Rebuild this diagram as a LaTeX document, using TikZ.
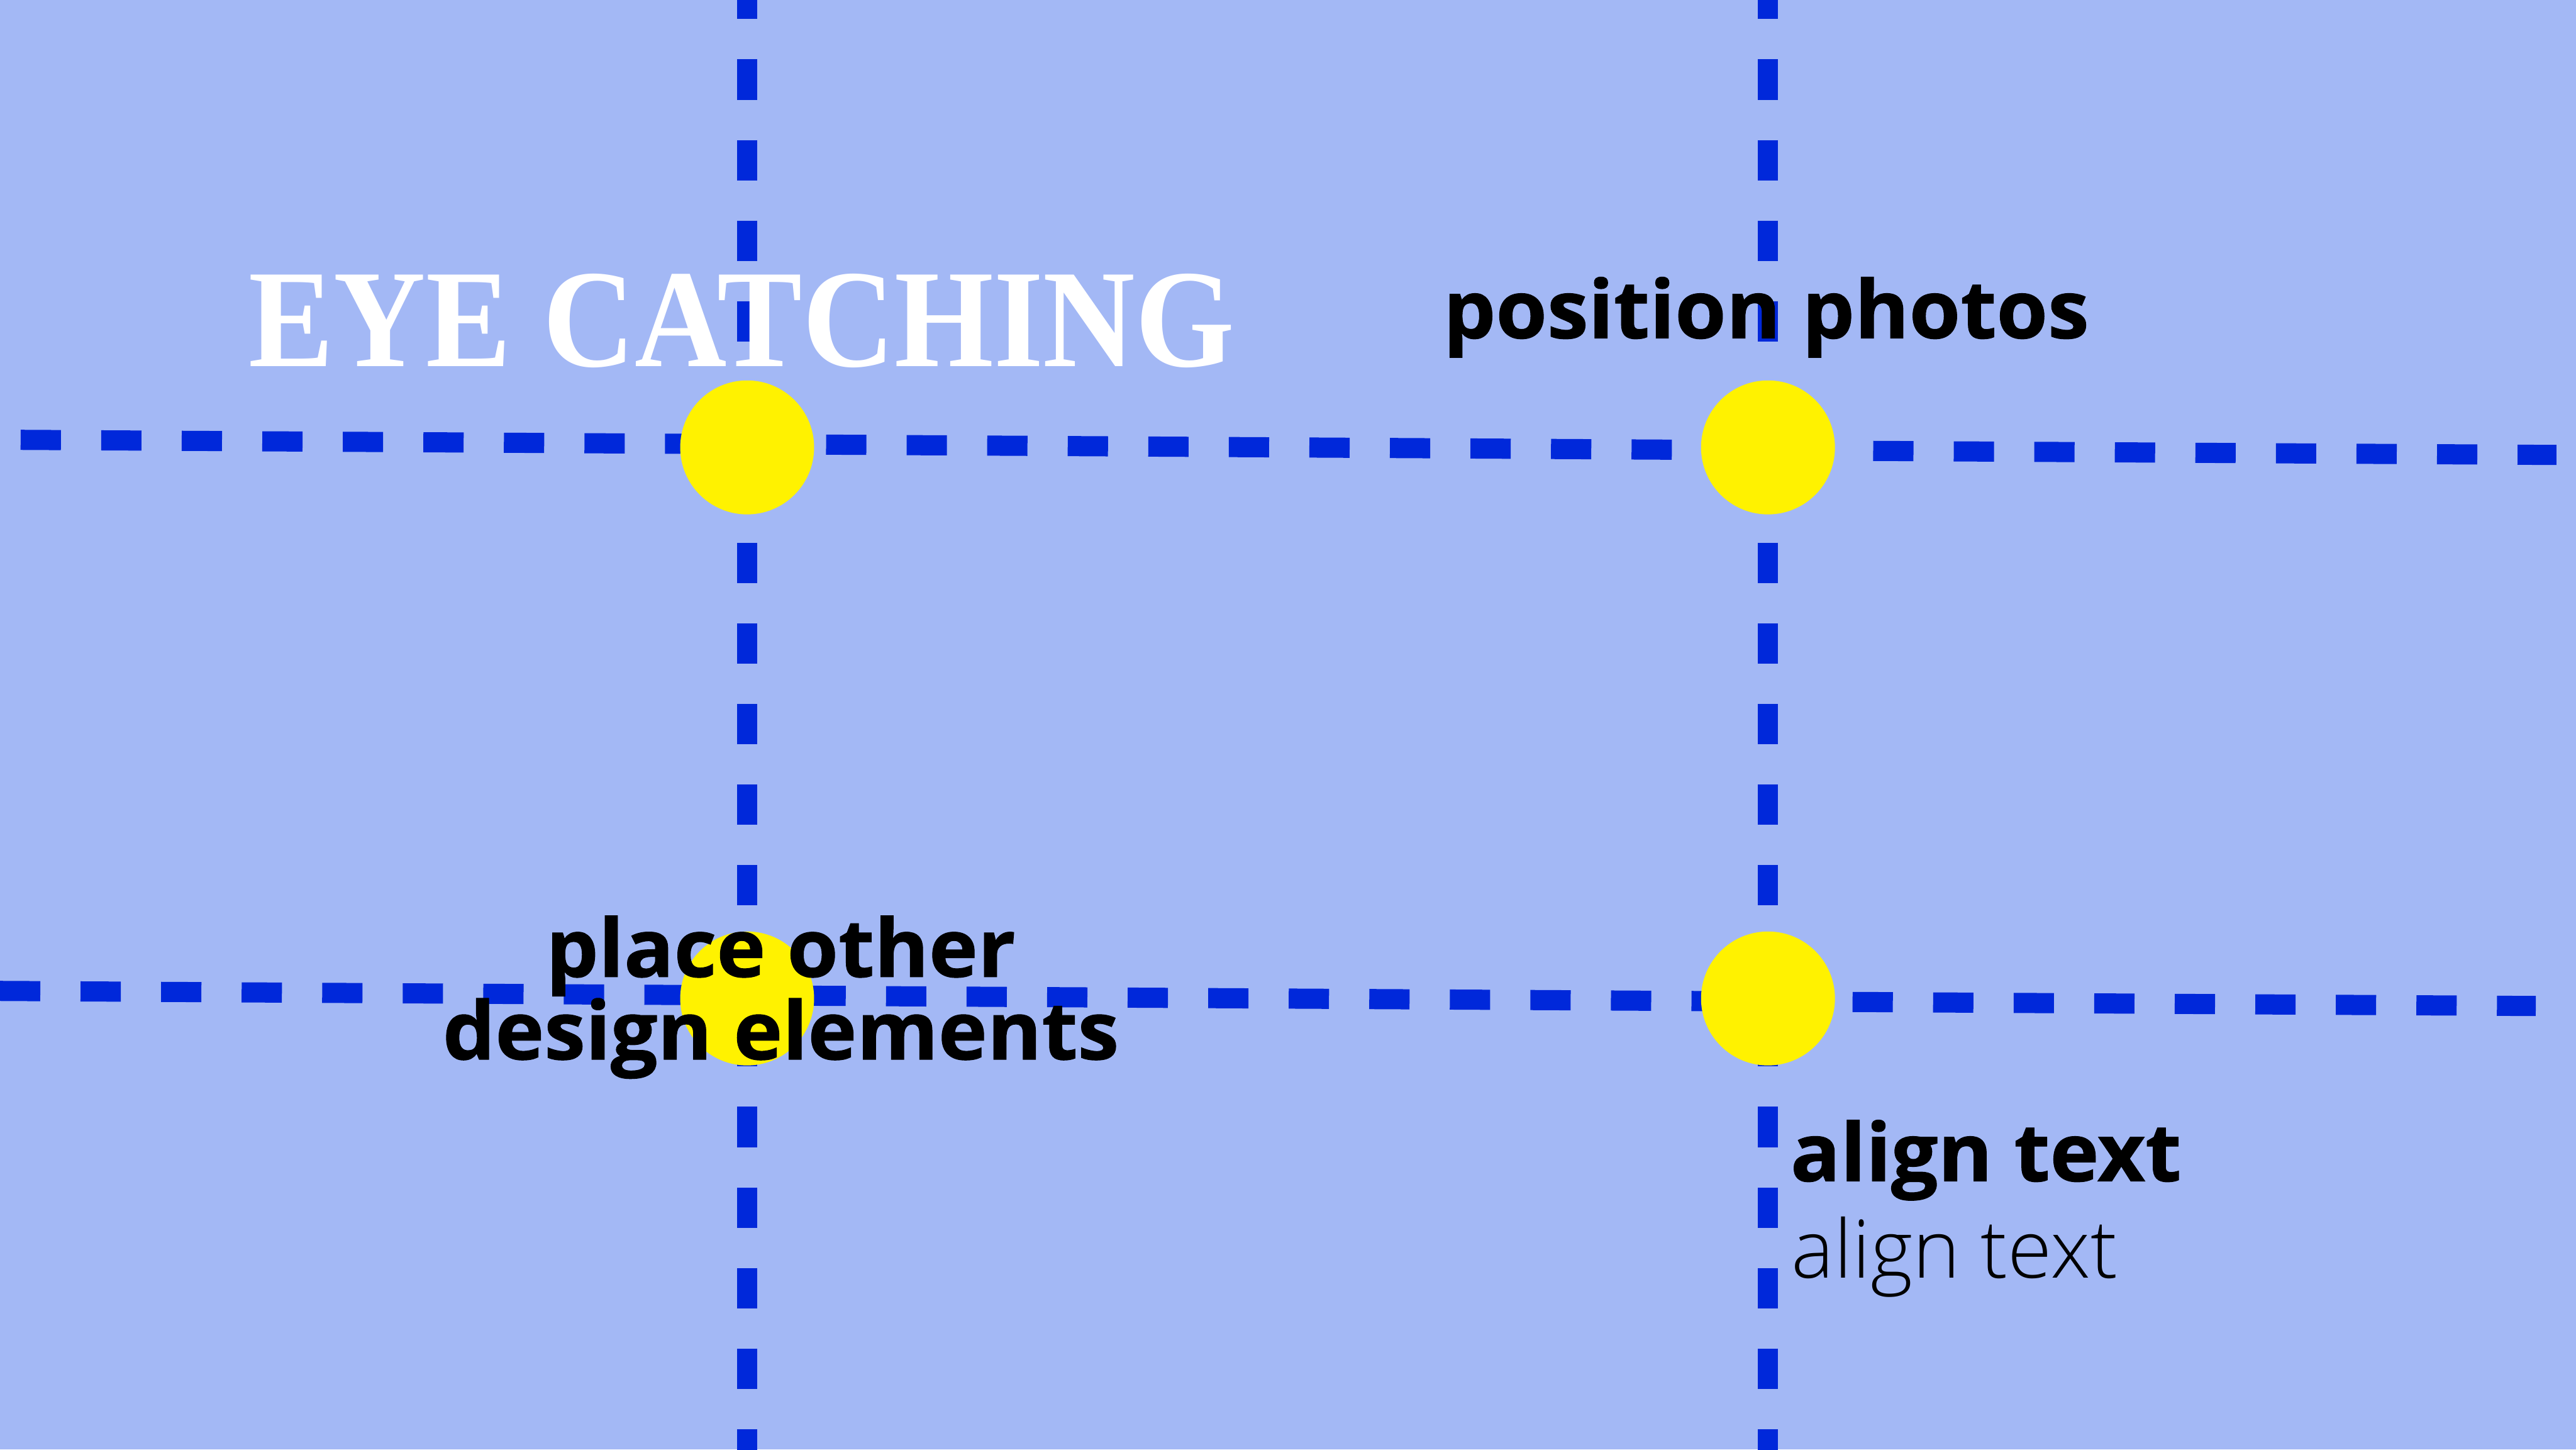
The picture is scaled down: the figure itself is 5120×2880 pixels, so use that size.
\documentclass[tikz,border=0pt]{standalone}
\usepackage{fontspec}
\usepackage{graphicx}
\setmainfont{Liberation Serif}
\newfontfamily\osxb{Open Sans Bold}[FakeBold=0.8]
\newfontfamily\oslight{Open Sans Light}
\definecolor{bgblue}{RGB}{163,184,245}
\definecolor{dashblue}{RGB}{0,40,218}
\definecolor{dotyellow}{RGB}{255,242,0}
\newcommand{\wide}[1]{\scalebox{1.03}[1]{#1}}
\begin{document}
\begin{tikzpicture}[x=0.01cm,y=-0.01cm,
  gridline/.style={draw=dashblue,line width=0.4cm,dash pattern=on 0.8cm off 0.8cm},
  dot/.style={circle,fill=dotyellow,minimum size=2.66cm,inner sep=0pt},
  lbl/.style={inner sep=0pt,text=black,font=\osxb\fontsize{45.5pt}{46.7pt}\selectfont},
  lightlbl/.style={inner sep=0pt,text=black,font=\oslight\fontsize{45.5pt}{46.7pt}\selectfont},
  title/.style={inner sep=0pt,text=white,font=\bfseries\fontsize{79pt}{80pt}\selectfont}]
\useasboundingbox (0,0) rectangle (5120,2880);
\clip (0,0) rectangle (5120,2880);
\fill[bgblue] (0,0) rectangle (5120,2880);
% grid line end points
\coordinate (h1a) at (41,874);
\coordinate (h1b) at (5081,904);
\coordinate (h2a) at (0,1969);
\coordinate (h2b) at (5040,1999);
\coordinate (v1a) at (1485,-42);
\coordinate (v1b) at (1485,2960);
\coordinate (v2a) at (3514,-42);
\coordinate (v2b) at (3514,2960);
\draw[gridline] (h1a) -- (h1b);
\draw[gridline] (h2a) -- (h2b);
\draw[gridline] (v1a) -- (v1b);
\draw[gridline] (v2a) -- (v2b);
% intersection dots
\node[dot] (d1) at (1485,889) {};
\node[dot] (d2) at (3514,889) {};
\node[dot] (d3) at (1485,1984) {};
\node[dot] (d4) at (3514,1984) {};
% texts
\node[title,anchor=base west] (eye) at (494,728) {\scalebox{0.912}[1]{EYE CATCHING}};
\node[lbl,anchor=base west] (pos) at (2868,672) {\wide{position photos}};
\node[lbl,anchor=base] (place1) at (1552,1941) {\wide{place other}};
\node[lbl,anchor=base] (place2) at (1552,2105) {\wide{design elements}};
\node[lbl,anchor=base west] (align1) at (3558,2347) {\wide{align text}};
\node[lightlbl,anchor=base west] (align2) at (3560,2539) {align text};
\end{tikzpicture}
\end{document}
